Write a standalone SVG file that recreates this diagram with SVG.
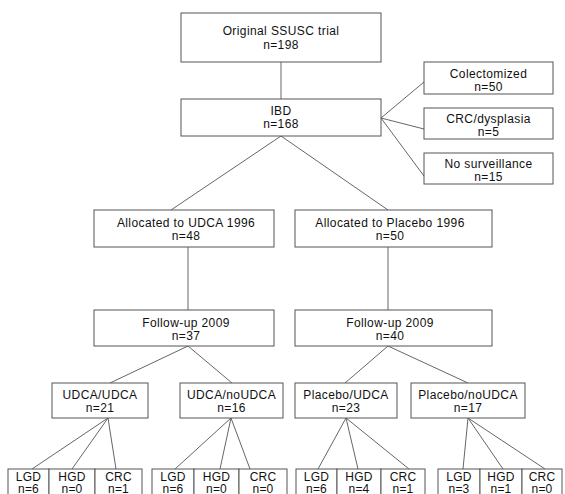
<svg xmlns="http://www.w3.org/2000/svg" width="565" height="494" viewBox="0 0 565 494">
<style>
.box{fill:#fff;stroke:#555;stroke-width:1}
.t{font-family:"Liberation Sans",Arial,sans-serif;font-size:12px;letter-spacing:0.4px;fill:#111;text-anchor:middle}
.s{font-family:"Liberation Sans",Arial,sans-serif;font-size:12px;letter-spacing:0.2px;fill:#111;text-anchor:middle}
.c line{stroke:#666;stroke-width:1}
</style>
<rect width="565" height="494" fill="#fff"/>
<g class="c" id="connectors">
<line x1="281" y1="62" x2="281" y2="99"/>
<line x1="381" y1="118" x2="424" y2="82"/>
<line x1="381" y1="118" x2="424" y2="129"/>
<line x1="381" y1="118" x2="424" y2="176"/>
<line x1="281" y1="136" x2="171" y2="210"/>
<line x1="281" y1="136" x2="388" y2="210"/>
<line x1="188" y1="247" x2="188" y2="310"/>
<line x1="388" y1="247" x2="388" y2="310"/>
<line x1="188" y1="346" x2="110" y2="383"/>
<line x1="188" y1="346" x2="232" y2="383"/>
<line x1="388" y1="346" x2="345" y2="383"/>
<line x1="388" y1="346" x2="468" y2="383"/>
<line x1="108" y1="418" x2="32" y2="469"/>
<line x1="108" y1="418" x2="72" y2="469"/>
<line x1="108" y1="418" x2="116" y2="469"/>
<line x1="231" y1="418" x2="175" y2="469"/>
<line x1="231" y1="418" x2="220" y2="469"/>
<line x1="231" y1="418" x2="250" y2="469"/>
<line x1="346" y1="418" x2="318" y2="469"/>
<line x1="346" y1="418" x2="358" y2="469"/>
<line x1="346" y1="418" x2="409" y2="469"/>
<line x1="468" y1="418" x2="463" y2="469"/>
<line x1="468" y1="418" x2="503" y2="469"/>
<line x1="468" y1="418" x2="545" y2="469"/>
</g>
<g id="n-original"><rect class="box" x="181" y="13" width="200" height="49"/><text class="t" x="281" y="35">Original SSUSC trial</text><text class="t" x="281" y="48.5">n=198</text></g>
<g id="n-ibd"><rect class="box" x="181" y="99" width="200" height="37"/><text class="t" x="281" y="115">IBD</text><text class="t" x="281" y="128">n=168</text></g>
<g id="n-colect"><rect class="box" x="424" y="62" width="129" height="32"/><text class="t" x="488.5" y="78">Colectomized</text><text class="t" x="488.5" y="91">n=50</text></g>
<g id="n-crc"><rect class="box" x="424" y="108" width="129" height="31"/><text class="t" x="488.5" y="123">CRC/dysplasia</text><text class="t" x="488.5" y="136">n=5</text></g>
<g id="n-nosurv"><rect class="box" x="424" y="153" width="129" height="31"/><text class="t" x="488.5" y="168">No surveillance</text><text class="t" x="488.5" y="181">n=15</text></g>
<g id="n-alloc-udca"><rect class="box" x="94" y="210" width="180" height="37"/><text class="t" x="186" y="226.5">Allocated to UDCA 1996</text><text class="t" x="186" y="239.5">n=48</text></g>
<g id="n-alloc-plac"><rect class="box" x="295" y="210" width="197" height="37"/><text class="t" x="390" y="226.5">Allocated to Placebo 1996</text><text class="t" x="390" y="239.5">n=50</text></g>
<g id="n-fu-udca"><rect class="box" x="94" y="310" width="180" height="36"/><text class="t" x="186" y="326.5">Follow-up 2009</text><text class="t" x="186" y="339.5">n=37</text></g>
<g id="n-fu-plac"><rect class="box" x="295" y="310" width="197" height="36"/><text class="t" x="390" y="326.5">Follow-up 2009</text><text class="t" x="390" y="339.5">n=40</text></g>
<g id="n-uu"><rect class="box" x="52" y="383" width="96" height="35"/><text class="t" x="100" y="399">UDCA/UDCA</text><text class="t" x="100" y="412">n=21</text></g>
<g id="n-un"><rect class="box" x="180" y="383" width="103" height="35"/><text class="t" x="231.5" y="399">UDCA/noUDCA</text><text class="t" x="231.5" y="412">n=16</text></g>
<g id="n-pu"><rect class="box" x="295" y="383" width="102" height="35"/><text class="t" x="346" y="399">Placebo/UDCA</text><text class="t" x="346" y="412">n=23</text></g>
<g id="n-pn"><rect class="box" x="411" y="383" width="114" height="35"/><text class="t" x="468" y="399">Placebo/noUDCA</text><text class="t" x="468" y="412">n=17</text></g>
<g id="leaves-uu">
<rect class="box" x="8" y="469" width="41" height="35"/><text class="s" x="28.5" y="480.5">LGD</text><text class="s" x="28.5" y="493">n=6</text>
<rect class="box" x="49" y="469" width="46" height="35"/><text class="s" x="72" y="480.5">HGD</text><text class="s" x="72" y="493">n=0</text>
<rect class="box" x="95" y="469" width="47" height="35"/><text class="s" x="118.5" y="480.5">CRC</text><text class="s" x="118.5" y="493">n=1</text>
</g>
<g id="leaves-un">
<rect class="box" x="152" y="469" width="42" height="35"/><text class="s" x="173" y="480.5">LGD</text><text class="s" x="173" y="493">n=6</text>
<rect class="box" x="194" y="469" width="45" height="35"/><text class="s" x="216.5" y="480.5">HGD</text><text class="s" x="216.5" y="493">n=0</text>
<rect class="box" x="239" y="469" width="48" height="35"/><text class="s" x="263" y="480.5">CRC</text><text class="s" x="263" y="493">n=0</text>
</g>
<g id="leaves-pu">
<rect class="box" x="296" y="469" width="41" height="35"/><text class="s" x="316.5" y="480.5">LGD</text><text class="s" x="316.5" y="493">n=6</text>
<rect class="box" x="337" y="469" width="44" height="35"/><text class="s" x="359" y="480.5">HGD</text><text class="s" x="359" y="493">n=4</text>
<rect class="box" x="381" y="469" width="44" height="35"/><text class="s" x="403" y="480.5">CRC</text><text class="s" x="403" y="493">n=1</text>
</g>
<g id="leaves-pn">
<rect class="box" x="438" y="469" width="42" height="35"/><text class="s" x="459" y="480.5">LGD</text><text class="s" x="459" y="493">n=3</text>
<rect class="box" x="480" y="469" width="42" height="35"/><text class="s" x="501" y="480.5">HGD</text><text class="s" x="501" y="493">n=1</text>
<rect class="box" x="522" y="469" width="40" height="35"/><text class="s" x="542" y="480.5">CRC</text><text class="s" x="542" y="493">n=0</text>
</g>
</svg>
